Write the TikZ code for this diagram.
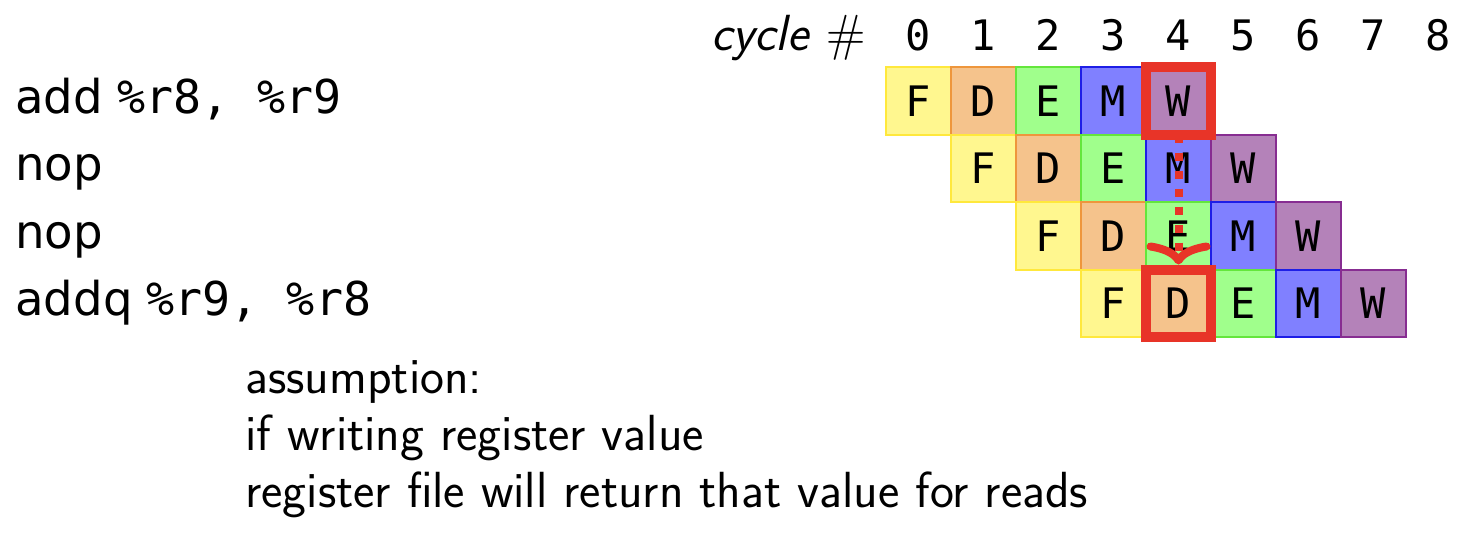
\documentclass[tikz,border=0pt]{standalone}
\usepackage{fontspec}
\setmonofont{DejaVu Sans Mono}
\newfontfamily\opfont{DejaVu Sans}
\usepackage{tikz}
\usetikzlibrary{arrows.meta}

\definecolor{fetchfill}{RGB}{255,247,143}
\definecolor{fetchline}{RGB}{255,232,60}
\definecolor{decodefill}{RGB}{245,195,140}
\definecolor{decodeline}{RGB}{238,150,60}
\definecolor{execfill}{RGB}{160,255,140}
\definecolor{execline}{RGB}{100,230,60}
\definecolor{memfill}{RGB}{128,128,255}
\definecolor{memline}{RGB}{30,30,230}
\definecolor{wbfill}{RGB}{180,130,185}
\definecolor{wbline}{RGB}{135,45,145}
\definecolor{hazred}{RGB}{232,52,40}

\begin{document}
\begin{tikzpicture}[x=0.5pt,y=-0.5pt]
    \useasboundingbox (0,0) rectangle (1472,532);

    % --- DEFINE STYLES ---
    % Style for one pipeline stage box
    \tikzstyle{stagecell} = [draw, line width=1pt, minimum width=32.5pt, minimum height=33.75pt,
        inner sep=0pt, outer sep=0pt, font=\fontsize{21pt}{25pt}\selectfont\ttfamily]
    \tikzstyle{fetchc} = [stagecell, fill=fetchfill, draw=fetchline]
    \tikzstyle{decodec} = [stagecell, fill=decodefill, draw=decodeline]
    \tikzstyle{execc} = [stagecell, fill=execfill, draw=execline]
    \tikzstyle{memc} = [stagecell, fill=memfill, draw=memline]
    \tikzstyle{wbc} = [stagecell, fill=wbfill, draw=wbline]
    % Style for the instruction listing and cycle numbers
    \tikzstyle{instr} = [anchor=base west, inner sep=0pt, font=\fontsize{23.3pt}{27pt}\selectfont]
    \tikzstyle{cyclenum} = [anchor=base, inner sep=0pt, font=\fontsize{21pt}{25pt}\selectfont\ttfamily]
    \tikzstyle{note} = [anchor=base west, inner sep=0pt, font=\fontsize{25.4pt}{30pt}\selectfont\sffamily]
    % Style for the hazard marks
    \tikzstyle{hilite} = [draw=hazred, line width=5pt]
    \tikzstyle{fwd} = [draw=hazred, line width=4pt, dash pattern=on 4pt off 5pt,
        -{Computer Modern Rightarrow[width=32pt,length=11pt,line cap=round]}, shorten >=2.5pt]

    % Cycle numbers
    \node[note, anchor=base east] (cyclelbl) at (866,50) {\textit{cycle} $\#$};
    \foreach \c in {0,...,8} {
        \node[cyclenum] (n\c) at (918.5+65*\c, 50) {\c};
    }

    % Instructions
    \node[instr] (add) at (15,113) {{\opfont add}\hspace{7pt}\texttt{\%r8, \%r9}};
    \node[instr] (nopa) at (15,180) {\opfont nop};
    \node[instr] (nopb) at (15,248) {\opfont nop};
    \node[instr] (addq) at (15,315) {{\opfont addq}\hspace{7pt}\texttt{\%r9, \%r8}};

    % --- DRAW PIPELINE STAGES ---
    \foreach \r in {0,...,3} {
        \foreach \s/\lbl/\sty in {0/F/fetchc, 1/D/decodec, 2/E/execc, 3/M/memc, 4/W/wbc} {
            \node[\sty] (\lbl\r) at (918.5+65*\r+65*\s, 100.75+67.5*\r) {\lbl};
        }
    }

    % Forwarding through the register file
    \draw[fwd] (W0.south) -- (D3.north);
    \draw[hilite] (W0.north west) rectangle (W0.south east);
    \draw[hilite] (D3.north west) rectangle (D3.south east);

    % Assumption text
    \node[note] (asm) at (245,393) {assumption:};
    \node[note] (asmb) at (245,450) {if writing register value};
    \node[note] (asmc) at (245,507) {register file will return that value for reads};
\end{tikzpicture}
\end{document}
